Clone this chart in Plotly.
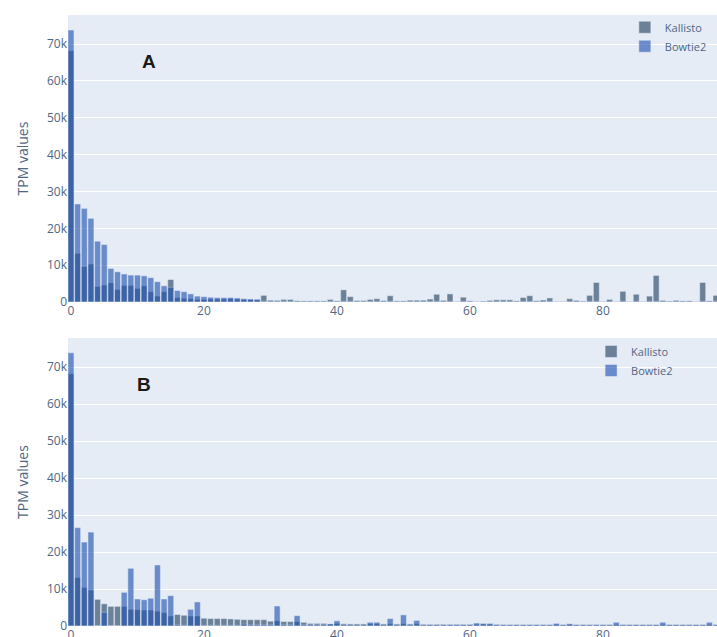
import plotly.graph_objects as go
from plotly.subplots import make_subplots

# ---------------- data ----------------
positions = list(range(98))

kallisto_a = [68200, 13200, 9600, 10300, 4200, 4600, 5200, 3400, 4500, 4500,
              3700, 4400, 2800, 1600, 2800, 6100, 1200, 1000, 900, 700,
              700, 800, 800, 800, 900, 800, 700, 700, 600, 1800,
              500, 450, 700, 700, 350, 300, 300, 300, 300, 700,
              300, 3300, 1450, 400, 400, 700, 900, 400, 1700, 300,
              300, 500, 500, 500, 800, 2100, 450, 2200, 100, 1300,
              300, 100, 200, 450, 600, 600, 600, 300, 1200, 1700,
              350, 550, 1100, 100, 100, 900, 450, 200, 1800, 5300,
              100, 700, 100, 2900, 100, 2100, 100, 1600, 7200, 450,
              200, 450, 300, 300, 100, 5300, 300, 1800]

bowtie2_a = [73800, 26600, 25400, 22700, 16500, 15600, 9100, 8200, 7600, 7300,
             7300, 7100, 6600, 5500, 4400, 4000, 3100, 2800, 2200, 1600,
             1450, 1300, 1200, 1200, 1200, 1100, 900, 800, 750, 200,
             200, 200, 200, 200, 200, 200, 200, 200, 200, 200,
             200, 200, 200, 200, 200, 200, 200, 200, 200, 200,
             200, 200, 200, 200, 200, 200, 200, 200, 100, 200,
             200, 100, 200, 200, 200, 200, 200, 200, 200, 200,
             200, 200, 200, 100, 100, 200, 200, 200, 200, 200,
             100, 200, 100, 200, 100, 200, 100, 200, 200, 200,
             200, 200, 200, 200, 100, 200, 200, 200]

kallisto_b = [68200, 13100, 10400, 9700, 7200, 6000, 5300, 5300, 5300, 4500,
              4400, 4300, 4300, 4000, 3600, 2700, 3100, 2900, 2700, 2700,
              2100, 2000, 2000, 2000, 1900, 1800, 1700, 1700, 1700, 1700,
              1300, 1400, 1200, 1200, 1200, 1000, 700, 700, 700, 550,
              700, 600, 550, 550, 550, 600, 600, 550, 600, 550,
              600, 550, 600, 450, 450, 450, 450, 450, 450, 450,
              450, 450, 450, 450, 450, 400, 400, 400, 400, 400,
              400, 400, 400, 400, 400, 400, 400, 400, 400, 400,
              400, 400, 400, 400, 400, 400, 400, 400, 400, 400,
              400, 400, 400, 400, 400, 400, 400, 400]

bowtie2_b = [73900, 26600, 22700, 25400, 100, 3700, 100, 100, 9100, 15600,
             7300, 7100, 7500, 16500, 7300, 8200, 300, 200, 4500, 6500,
             200, 200, 200, 200, 200, 200, 500, 300, 300, 300,
             300, 5400, 300, 300, 2800, 300, 300, 300, 300, 550,
             1400, 300, 300, 300, 300, 1000, 1000, 300, 2000, 300,
             3000, 300, 1500, 300, 300, 300, 300, 300, 300, 300,
             300, 800, 700, 700, 300, 300, 300, 300, 300, 300,
             300, 300, 300, 700, 300, 600, 300, 300, 300, 300,
             300, 300, 1000, 300, 300, 300, 300, 300, 300, 1000,
             300, 300, 300, 300, 300, 300, 1000, 300]

KALLISTO_COLOR = "#22405f"
BOWTIE_COLOR = "#2051af"
TEXT_COLOR = "#506784"

fig = make_subplots(rows=2, cols=1)

fig.add_trace(go.Bar(x=positions, y=kallisto_a, name="Kallisto",
                     marker_color=KALLISTO_COLOR, opacity=0.62,
                     legend="legend"), row=1, col=1)
fig.add_trace(go.Bar(x=positions, y=bowtie2_a, name="Bowtie2",
                     marker_color=BOWTIE_COLOR, opacity=0.62,
                     legend="legend"), row=1, col=1)
fig.add_trace(go.Bar(x=positions, y=kallisto_b, name="Kallisto",
                     marker_color=KALLISTO_COLOR, opacity=0.62,
                     legend="legend2"), row=2, col=1)
fig.add_trace(go.Bar(x=positions, y=bowtie2_b, name="Bowtie2",
                     marker_color=BOWTIE_COLOR, opacity=0.62,
                     legend="legend2"), row=2, col=1)

axis_font = dict(family="Open Sans, sans-serif", size=12, color=TEXT_COLOR)

for r, dom in ((1, [0.5259, 0.9765]), (2, [0.0173, 0.4694])):
    fig.update_xaxes(range=[-0.45, 97.15], dtick=20, tick0=0, showgrid=False,
                     zeroline=False, automargin=False, tickfont=axis_font,
                     row=r, col=1)
    fig.update_yaxes(range=[0, 77900], dtick=10000, domain=dom,
                     automargin=False, tickfont=axis_font,
                     title=dict(text="TPM values",
                                font=dict(family="Open Sans, sans-serif",
                                          size=14, color=TEXT_COLOR)),
                     row=r, col=1)

fig.update_layout(
    width=717, height=637,
    margin=dict(l=68, r=0, t=0, b=0),
    barmode="overlay", bargap=0.1,
    template="plotly",
    paper_bgcolor="white",
    plot_bgcolor="#E5ECF6",
    font=dict(family="Open Sans, sans-serif", color=TEXT_COLOR),
    legend=dict(x=0.858, y=0.98, xanchor="left", yanchor="top",
                bgcolor="rgba(0,0,0,0)",
                font=dict(size=11, color=TEXT_COLOR)),
    legend2=dict(x=0.806, y=0.471, xanchor="left", yanchor="top",
                 bgcolor="rgba(0,0,0,0)",
                 font=dict(size=11, color=TEXT_COLOR)),
    annotations=[
        dict(text="<b>A</b>", x=0.1248, y=0.9027, xref="paper", yref="paper",
             xanchor="center", yanchor="middle",
             showarrow=False, font=dict(family="Liberation Sans, Arial", size=19,
                                        color="#1a1a1a")),
        dict(text="<b>B</b>", x=0.117, y=0.397, xref="paper", yref="paper",
             xanchor="center", yanchor="middle",
             showarrow=False, font=dict(family="Liberation Sans, Arial", size=19,
                                        color="#1a1a1a")),
    ],
)

fig.write_html("out.html",
               config={"displayModeBar": False},
               post_script="document.body.style.margin='0';"
                           "document.body.style.overflow='hidden';")
